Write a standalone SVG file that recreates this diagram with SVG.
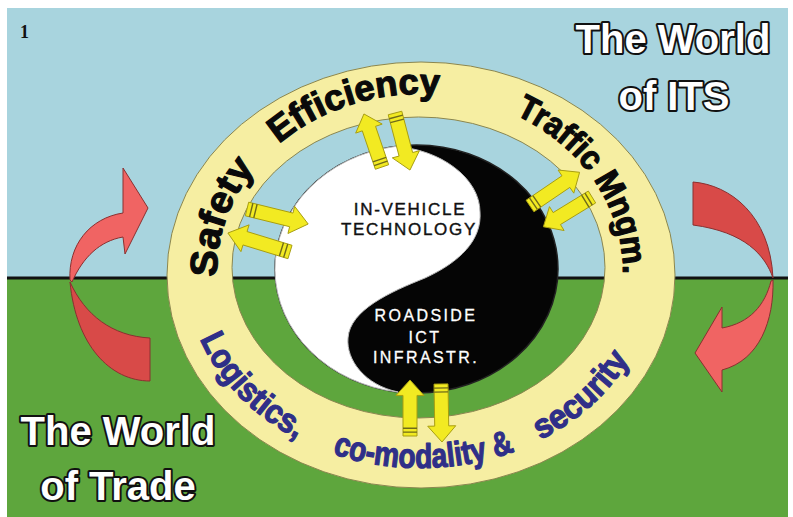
<svg xmlns="http://www.w3.org/2000/svg" width="793" height="517" viewBox="0 0 793 517">
<style>
.title{font-family:"Liberation Sans",Arial,sans-serif;font-weight:bold;font-size:40px;fill:#fff;stroke:#111;stroke-width:4;paint-order:stroke;stroke-linejoin:round;text-anchor:middle}
.rt{font-family:"Liberation Sans",Arial,sans-serif;font-weight:bold;fill:#0a0a0a;stroke:#0a0a0a;stroke-width:1.2;stroke-linejoin:round}
.rb{font-family:"Liberation Sans",Arial,sans-serif;font-weight:bold;fill:#2f2f88;stroke:#2f2f88;stroke-width:1.2;stroke-linejoin:round;font-size:34px}
.core{font-family:"Liberation Sans",Arial,sans-serif;text-anchor:middle}
.arrow{fill:#f2ea22;stroke:#a89e10;stroke-width:1}
.stripe{stroke:#6f6a1a;stroke-width:1.4}
.red-d{fill:#d84a48;stroke:#8a3030;stroke-width:1}
.red-l{fill:#f06463;stroke:#8a3030;stroke-width:1}
</style>
<defs>
<g id="arr">
<path class="arrow" vector-effect="non-scaling-stroke" d="M0,-7 H42 V-14 L58,0 L42,14 V7 H0 Z"/>
<path class="stripe" vector-effect="non-scaling-stroke" d="M4,-7V7M8,-7V7"/>
</g>
<path id="pSafety" d="M217.1,277 A203,178 0 0 1 257.9,164.9"/>
<path id="pEff" d="M279,144 A203,178 0 0 1 441.2,95"/>
<path id="pTraf" d="M515.3,114.8 A203,178 0 0 1 623,275.1"/>
<path id="pLog" d="M200.1,339 A234,196 0 0 0 299.5,440"/>
<path id="pCo" d="M332.3,453.7 A234,196 0 0 0 517,450.4"/>
<path id="pSec" d="M540.5,440 A234,196 0 0 0 630.3,357.9"/>
</defs>

<g id="background">
<rect x="0" y="0" width="793" height="517" fill="#fff"/>
<rect x="7" y="8" width="781" height="270" fill="#a8d4de"/>
<rect x="7" y="278" width="781" height="239" fill="#5ea63d"/>
<line x1="7" y1="278" x2="788" y2="278" stroke="#111" stroke-width="3"/>
<text x="20" y="38" font-family="Liberation Serif,serif" font-size="18" font-weight="bold" fill="#111">1</text>
</g>

<g id="world-its-arrow">
<path class="red-d" d="M693,182 C730,185 770,215 773,278 C765,255 745,232 693,225 Z"/>
<path class="red-l" d="M773,280 C774,320 760,360 722,370 L722,392 L695,353 L722,307 L722,328 C750,323 765,305 771,281 Z"/>
</g>
<g id="world-trade-arrow">
<path class="red-d" d="M150,338 L150,381 C110,381 76,345 70,282 C85,315 112,336 150,338 Z"/>
<path class="red-l" d="M70,280 C68,245 90,218 123,213 L123,168 L148,208 L125,254 L123,237 C100,241 83,257 72,282 Z"/>
</g>

<g id="ring">
<path fill="#f6eea2" stroke="#8a8650" stroke-width="1" fill-rule="evenodd" d="M167,275 A254,213 0 1 0 675,275 A254,213 0 1 0 167,275 Z M232,267.5 A186.5,150.5 0 1 0 605,267.5 A186.5,150.5 0 1 0 232,267.5 Z"/>
<text class="rt" font-size="38"><textPath href="#pSafety" textLength="118" lengthAdjust="spacingAndGlyphs">Safety</textPath></text>
<text class="rt" font-size="36"><textPath href="#pEff" textLength="172" lengthAdjust="spacingAndGlyphs">Efficiency</textPath></text>
<text class="rt" font-size="34"><textPath href="#pTraf" textLength="203" lengthAdjust="spacingAndGlyphs">Traffic Mngm.</textPath></text>
<text class="rb"><textPath href="#pLog" textLength="142" lengthAdjust="spacingAndGlyphs">Logistics,</textPath></text>
<text class="rb"><textPath href="#pCo" textLength="186" lengthAdjust="spacingAndGlyphs">co-modality &amp;</textPath></text>
<text class="rb"><textPath href="#pSec" textLength="122" lengthAdjust="spacingAndGlyphs">security</textPath></text>
</g>

<g id="yinyang">
<ellipse cx="416.5" cy="269" rx="141.5" ry="124" fill="#050505" stroke="#222" stroke-width="1.5"/>
<path fill="#fff" stroke="#bbb" stroke-width="1" d="M395,146.5 A141.5,124 0 0 0 398,392 C365,385 346,360 348,338 C350,310 390,292 425,278 C460,262 482,240 480,212 C480,178 440,149 395,146.5 Z"/>
</g>

<g id="in-vehicle">
<text class="core" font-size="17" letter-spacing="1.7" fill="#111" stroke="#111" stroke-width="0.4"><tspan x="410" y="215">IN-VEHICLE</tspan><tspan x="409" y="235">TECHNOLOGY</tspan></text>
</g>
<g id="roadside">
<text class="core" font-size="16" letter-spacing="2.4" fill="#fff" stroke="#fff" stroke-width="0.3"><tspan x="426" y="321">ROADSIDE</tspan><tspan x="425" y="343">ICT</tspan><tspan x="426" y="363">INFRASTR.</tspan></text>
</g>

<g id="connectors">
<use href="#arr" transform="translate(382,167) rotate(-108.8) scale(0.966,1)"/>
<use href="#arr" transform="translate(395,113) rotate(75.3) scale(1.017,1)"/>
<use href="#arr" transform="translate(247,209) rotate(13.8) scale(1.086,1)"/>
<use href="#arr" transform="translate(290,252) rotate(197) scale(1.12,1)"/>
<use href="#arr" transform="translate(530,206) rotate(-34.2) scale(1.034,1)"/>
<use href="#arr" transform="translate(592,197) rotate(148.5) scale(0.983,1)"/>
<use href="#arr" transform="translate(410,436) rotate(-90) scale(0.966,1)"/>
<use href="#arr" transform="translate(441,384) rotate(89) scale(1,1)"/>
</g>

<g id="world-its">
<text class="title"><tspan x="673" y="53">The World</tspan><tspan x="674" y="110">of ITS</tspan></text>
</g>
<g id="world-trade">
<text class="title"><tspan x="118" y="445">The World</tspan><tspan x="118" y="500">of Trade</tspan></text>
</g>
</svg>
